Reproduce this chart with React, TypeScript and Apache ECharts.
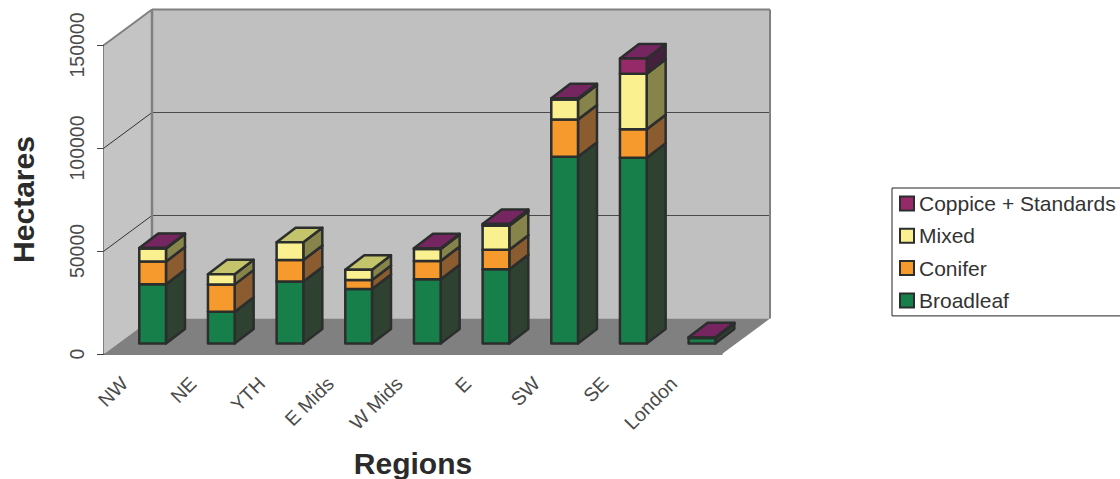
import React, { useEffect, useRef } from "react";
import * as echarts from "echarts";

const regions = ["NW", "NE", "YTH", "E Mids", "W Mids", "E", "SW", "SE", "London"];
const broadleaf = [28800, 15400, 30100, 26400, 31200, 36100, 90700, 90200, 2700];
const conifer = [11000, 13300, 10400, 4400, 8900, 9400, 18000, 13800, 0];
const mixed = [6300, 4900, 8600, 5000, 5800, 11700, 9700, 27000, 0];
const coppice = [300, 0, 0, 0, 300, 800, 650, 7400, 300];
const yTicks = [50000, 100000, 150000];

const FONT = '"Liberation Sans", Arial, sans-serif';
const LINE = "#2b2e2c";
const WALL = "#c0c0c0";
const FLOOR = "#808080";
const EDGE = "#808080";
const GRID = "#4a4a4a";

// Chart box depth and the offset of a bar's prism inside it
const DEPTH_X = 48;
const DEPTH_Y = 35.5;
const BAR_X = 14.3;
const BAR_Y = 10.5;
const SIDE_X = 19;
const SIDE_Y = 14.5;
const BAR_HALF = 13.35;

const layers = [
  { name: "Broadleaf", values: broadleaf, front: "#17804a", side: "#2f4232", top: "#2f4232" },
  { name: "Conifer", values: conifer, front: "#f79a2e", side: "#8a5c30", top: "#8a5c30" },
  { name: "Mixed", values: mixed, front: "#fbf08f", side: "#86844b", top: "#c3c46b" },
  { name: "Coppice + Standards", values: coppice, front: "#962a68", side: "#43213c", top: "#752560" },
];

const poly = (points: number[][], fill: string, stroke: string | null, lineWidth = 2.5) => ({
  type: "polygon",
  shape: { points },
  style: { fill, stroke: stroke ?? "none", lineWidth, lineJoin: "round" },
});

const seg = (a: number[], b: number[], stroke: string, lineWidth: number) => ({
  type: "line",
  shape: { x1: a[0], y1: a[1], x2: b[0], y2: b[1] },
  style: { stroke, lineWidth, fill: "none" },
});

// Back wall, side wall, floor and their gridlines, placed from the axis scales
const renderBox = (_: any, api: any) => {
  const band = api.size([1, 0])[0];
  const [c0, y0] = api.coord([0, 0]);
  const maxV = yTicks[yTicks.length - 1];
  const yTop = api.coord([0, maxV])[1];
  const xL = c0 - band / 2;
  const xR = xL + band * regions.length;
  const bx = xL + DEPTH_X;
  const bR = xR + DEPTH_X;
  const by = y0 - DEPTH_Y;
  const bt = yTop - DEPTH_Y;
  const children: any[] = [
    poly([[bx, bt], [bR, bt], [bR, by], [bx, by]], WALL, null),
    poly([[xL, yTop], [bx, bt], [bx, by], [xL, y0]], "#c4c4c4", null),
    poly([[xL, y0], [bx, by], [bR, by], [xR, y0]], FLOOR, null),
  ];
  yTicks.slice(0, -1).forEach((v) => {
    const y = api.coord([0, v])[1];
    children.push(seg([xL, y], [bx, y - DEPTH_Y], "#333333", 1));
    children.push(seg([bx, y - DEPTH_Y], [bR, y - DEPTH_Y], GRID, 1));
  });
  children.push(seg([xL, yTop], [bx, bt], EDGE, 2));
  children.push(seg([bx, bt], [bR, bt], EDGE, 2));
  children.push(seg([bx, bt], [bx, by], EDGE, 2.5));
  children.push(seg([bR, bt], [bR, by], EDGE, 2));
  return { type: "group", children };
};

// One stacked block: side and top faces first, front face over them
const renderBlock = (layer: (typeof layers)[number]) => (_: any, api: any) => {
  const idx = api.value(0);
  const base = api.value(1);
  const top = api.value(2);
  if (top <= base) return { type: "group", children: [] };
  const c = api.coord([idx, 0])[0] + BAR_X;
  const yb = api.coord([idx, base])[1] - BAR_Y;
  const yt = api.coord([idx, top])[1] - BAR_Y;
  const l = c - BAR_HALF;
  const r = c + BAR_HALF;
  return {
    type: "group",
    children: [
      poly([[r, yb], [r + SIDE_X, yb - SIDE_Y], [r + SIDE_X, yt - SIDE_Y], [r, yt]], layer.side, LINE),
      poly([[l, yt], [r, yt], [r + SIDE_X, yt - SIDE_Y], [l + SIDE_X, yt - SIDE_Y]], layer.top, LINE),
      poly([[l, yb], [r, yb], [r, yt], [l, yt]], layer.front, LINE),
    ],
  };
};

const stacked = () => {
  const running = regions.map(() => 0);
  return layers.map((layer) => {
    const data = layer.values.map((v, i) => {
      const row = [i, running[i], running[i] + v];
      running[i] += v;
      return row;
    });
    return {
      type: "custom",
      name: layer.name,
      coordinateSystem: "cartesian2d",
      encode: { x: 0, y: [1, 2] },
      itemStyle: { color: layer.front, borderColor: LINE, borderWidth: 2 },
      renderItem: renderBlock(layer),
      data,
    };
  });
};

export default function App() {
  const ref = useRef<HTMLDivElement>(null);
  useEffect(() => {
    const chart = echarts.init(ref.current!, undefined, { renderer: "svg" });
    chart.setOption({
      animation: false,
      backgroundColor: "#ffffff",
      grid: { left: 104, right: 398, top: 45, bottom: 125, containLabel: false, outerBoundsMode: "none" },
      legend: {
        orient: "vertical",
        left: 892,
        top: 188,
        padding: [5, 20, 5, 7],
        itemWidth: 14,
        itemHeight: 14,
        itemGap: 11.3,
        borderColor: "#222222",
        borderWidth: 1,
        icon: "rect",
        data: ["Coppice + Standards", "Mixed", "Conifer", "Broadleaf"],
        textStyle: { fontFamily: FONT, fontSize: 21, color: "#333333" },
      },
      xAxis: {
        type: "category",
        data: regions,
        name: "Regions",
        nameLocation: "middle",
        nameGap: 94,
        nameTextStyle: { fontFamily: FONT, fontSize: 30, fontWeight: "bold", color: "#2b2b2b" },
        axisLine: { lineStyle: { color: "#555555", width: 1.5 } },
        axisTick: { length: 6, lineStyle: { color: "#444444", width: 1 } },
        axisLabel: {
          rotate: 45,
          interval: 0,
          margin: 12,
          padding: [0, 20, 0, 0],
          fontFamily: FONT,
          fontSize: 19.5,
          color: "#4a4a4a",
        },
        splitLine: { show: false },
      },
      yAxis: {
        type: "value",
        min: 0,
        max: 150000,
        interval: 50000,
        name: "Hectares",
        nameLocation: "middle",
        nameGap: 66,
        nameRotate: 90,
        nameTextStyle: { fontFamily: FONT, fontSize: 30, fontWeight: "bold", color: "#2b2b2b" },
        axisLine: { show: true, lineStyle: { color: "#808080", width: 2 } },
        axisTick: { show: true, length: 7, lineStyle: { color: "#444444", width: 1 } },
        axisLabel: {
          rotate: 90,
          margin: 17,
          fontFamily: FONT,
          fontSize: 19.5,
          color: "#4a4a4a",
          formatter: (v: number) => String(v),
        },
        splitLine: { show: false },
      },
      series: [
        {
          type: "custom",
          name: "box",
          silent: true,
          coordinateSystem: "cartesian2d",
          encode: { x: 0, y: 1 },
          renderItem: renderBox,
          data: [[0, 0]],
          z: 1,
        },
        ...stacked().map((s) => ({ ...s, z: 2 })),
      ],
    });
    return () => chart.dispose();
  }, []);
  return <div ref={ref} style={{ position: "absolute", left: 0, top: 0, width: 1120, height: 479 }} />;
}
